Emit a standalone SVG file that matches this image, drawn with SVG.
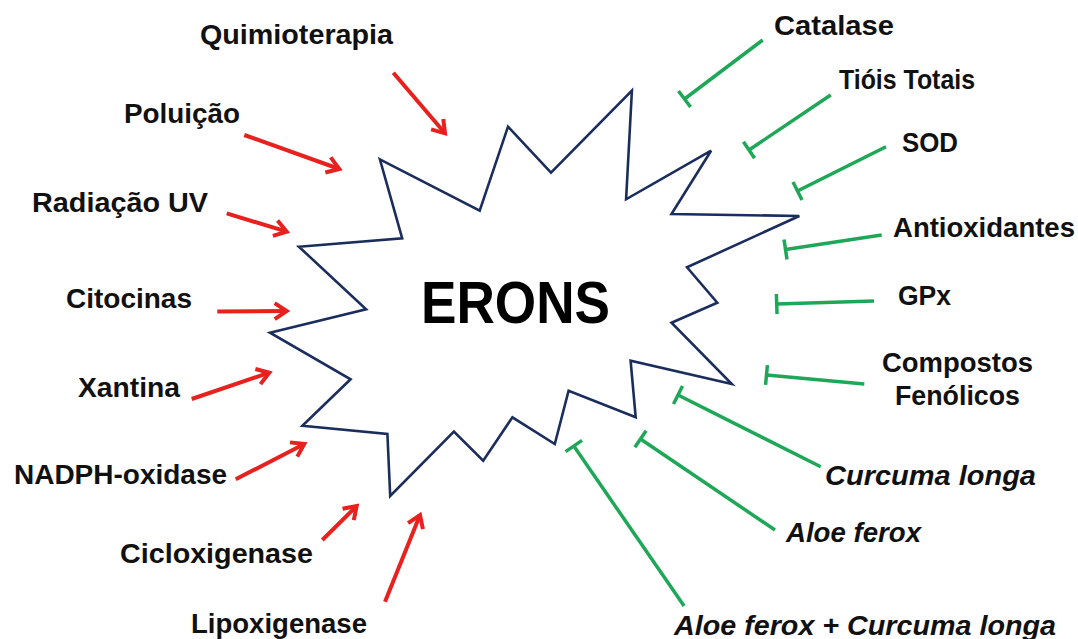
<svg xmlns="http://www.w3.org/2000/svg" width="1078" height="639" viewBox="0 0 1078 639">
<style>
  .lbl { font-family: "Liberation Sans", Arial, sans-serif; font-weight: bold; font-size: 27px; fill: #111; }
  .it { font-style: italic; }
  .title { font-family: "Liberation Sans", Arial, sans-serif; font-weight: bold; font-size: 60px; fill: #000; }
  .star { fill: #fff; stroke: #1b2d5c; stroke-width: 2.6; stroke-linejoin: miter; }
  .act { fill: none; stroke: #e8201e; stroke-width: 4; marker-end: url(#arrow); }
  .inh { fill: none; stroke: #1fa758; stroke-width: 3.5; marker-end: url(#tbar); }
</style>
<defs>
  <marker id="arrow" markerUnits="userSpaceOnUse" markerWidth="30" markerHeight="30" orient="auto" overflow="visible">
    <path d="M -12 -8 L 0 0 L -12 8" fill="none" stroke="#e8201e" stroke-width="4" stroke-linejoin="miter"/>
  </marker>
  <marker id="tbar" markerUnits="userSpaceOnUse" markerWidth="30" markerHeight="30" orient="auto" overflow="visible">
    <path d="M 0 -10 L 0 10" fill="none" stroke="#1fa758" stroke-width="3.5"/>
  </marker>
</defs>
<rect width="1078" height="639" fill="#fff"/>

<g id="erons">
  <polygon class="star" points="379.9,159.3 479.7,210.7 508,126.7 551,172.7 631.9,90.7 626.1,199.3 711.1,150.7 671.5,214 799.3,216 687,267.3 717.3,302.7 671.5,322.7 731.8,384 630.6,360.7 635.7,417.3 568.6,390.7 554.8,444 512.4,417.3 483.2,460.7 453.9,431.7 390.2,496 387.4,434 302.4,425.7 350.6,379.3 270,332.7 366.1,309.3 298.9,246.7 402.2,238.3"/>
  <text class="title" x="421" y="323" textLength="189" lengthAdjust="spacingAndGlyphs">ERONS</text>
</g>

<g id="connectors">
  <line class="act" x1="393.3" y1="72.7" x2="445" y2="133.3"/>
  <line class="act" x1="244.3" y1="135" x2="339.3" y2="169"/>
  <line class="act" x1="226.7" y1="213.3" x2="286.7" y2="231.7"/>
  <line class="act" x1="217.3" y1="311.5" x2="286.7" y2="311"/>
  <line class="act" x1="191.7" y1="399" x2="269.3" y2="372.7"/>
  <line class="act" x1="235.7" y1="479.3" x2="304.3" y2="444"/>
  <line class="act" x1="322.3" y1="540" x2="356.7" y2="506"/>
  <line class="act" x1="385" y1="601.7" x2="420" y2="515"/>

  <line class="inh" x1="762.7" y1="40" x2="684.5" y2="99"/>
  <line class="inh" x1="830.7" y1="95" x2="749" y2="150"/>
  <line class="inh" x1="886" y1="146.7" x2="797.5" y2="191"/>
  <line class="inh" x1="881.7" y1="235" x2="785.5" y2="249.5"/>
  <line class="inh" x1="874" y1="301" x2="776.7" y2="304"/>
  <line class="inh" x1="864.3" y1="384" x2="766.5" y2="375"/>
  <line class="inh" x1="820.7" y1="466.7" x2="678" y2="395"/>
  <line class="inh" x1="775" y1="530" x2="640.5" y2="439"/>
  <line class="inh" x1="684.1" y1="606" x2="573.8" y2="446"/>
</g>

<g id="quimioterapia"><text class="lbl" x="200" y="44" textLength="193" lengthAdjust="spacingAndGlyphs">Quimioterapia</text></g>
<g id="poluicao"><text class="lbl" x="124" y="123" textLength="116" lengthAdjust="spacingAndGlyphs">Poluição</text></g>
<g id="radiacao"><text class="lbl" x="32" y="212" textLength="176" lengthAdjust="spacingAndGlyphs">Radiação UV</text></g>
<g id="citocinas"><text class="lbl" x="66" y="308" textLength="126" lengthAdjust="spacingAndGlyphs">Citocinas</text></g>
<g id="xantina"><text class="lbl" x="78" y="397" textLength="102" lengthAdjust="spacingAndGlyphs">Xantina</text></g>
<g id="nadph"><text class="lbl" x="14" y="484" textLength="213" lengthAdjust="spacingAndGlyphs">NADPH-oxidase</text></g>
<g id="cicloxigenase"><text class="lbl" x="120" y="563" textLength="193" lengthAdjust="spacingAndGlyphs">Cicloxigenase</text></g>
<g id="lipoxigenase"><text class="lbl" x="191" y="633" textLength="176" lengthAdjust="spacingAndGlyphs">Lipoxigenase</text></g>

<g id="catalase"><text class="lbl" x="774" y="35" textLength="120" lengthAdjust="spacingAndGlyphs">Catalase</text></g>
<g id="tiois"><text class="lbl" x="839" y="89" textLength="136" lengthAdjust="spacingAndGlyphs">Tióis Totais</text></g>
<g id="sod"><text class="lbl" x="902" y="152" textLength="56" lengthAdjust="spacingAndGlyphs">SOD</text></g>
<g id="antioxidantes"><text class="lbl" x="893" y="237" textLength="182" lengthAdjust="spacingAndGlyphs">Antioxidantes</text></g>
<g id="gpx"><text class="lbl" x="898" y="305" textLength="53" lengthAdjust="spacingAndGlyphs">GPx</text></g>
<g id="compostos">
  <text class="lbl" x="882" y="372" textLength="151" lengthAdjust="spacingAndGlyphs">Compostos</text>
  <text class="lbl" x="895" y="405" textLength="125" lengthAdjust="spacingAndGlyphs">Fenólicos</text>
</g>
<g id="curcuma"><text class="lbl it" x="825" y="485" textLength="211" lengthAdjust="spacingAndGlyphs">Curcuma longa</text></g>
<g id="aloe"><text class="lbl it" x="786" y="542" textLength="135" lengthAdjust="spacingAndGlyphs">Aloe ferox</text></g>
<g id="aloe-curcuma"><text class="lbl it" x="674" y="635" textLength="382" lengthAdjust="spacingAndGlyphs">Aloe ferox + Curcuma longa</text></g>
</svg>
